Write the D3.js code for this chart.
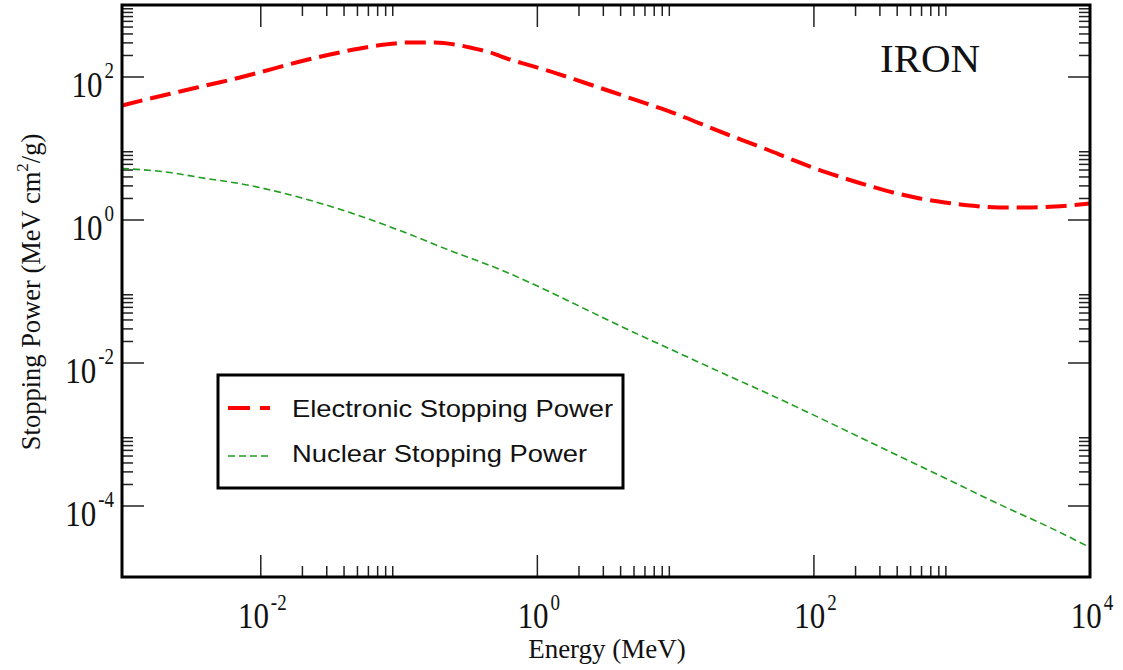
<!DOCTYPE html>
<html>
<head>
<meta charset="utf-8">
<script src="https://cdn.jsdelivr.net/npm/d3@7"></script>
<style>
  body { margin: 0; background: #fff; }
  svg { display: block; }
</style>
</head>
<body>
<div id="chart"></div>
<script>
// values (energy in MeV, stopping power in MeV cm2/g)
const elecEnergy = [0.001, 0.00159, 0.00263, 0.00433, 0.00713, 0.01175, 0.0194, 0.0319, 0.0526, 0.0797, 0.121, 0.183, 0.256, 0.328, 0.458, 0.639, 0.891, 1.40, 2.19, 3.43, 5.30, 7.90, 11.8, 18.5, 29.9, 46.1, 70, 103, 161, 248, 376, 589, 893, 1354, 2195, 3440, 5576, 8454, 10000]
const elecPower = [39.3, 49.2, 61.7, 77.3, 96.8, 125, 162, 203, 247, 280, 299, 299, 280, 255, 217, 173, 143, 110, 82.4, 61.7, 46.2, 35.7, 26.7, 18.8, 13.1, 9.53, 6.90, 5.17, 3.87, 2.99, 2.39, 1.97, 1.73, 1.57, 1.47, 1.47, 1.52, 1.62, 1.67]

const nucEnergy = [0.001, 0.00222, 0.00366, 0.00842, 0.0194, 0.0445, 0.102, 0.236, 0.541, 1.14, 2.05, 4.71, 10.8, 24.9, 48.4, 79.8, 184, 422, 970, 2234, 5130, 10000]
const nucPower = [5.17, 4.54, 3.87, 2.99, 2.03, 1.25, 0.702, 0.368, 0.200, 0.105, 0.0607, 0.0280, 0.01337, 0.00637, 0.00357, 0.00227, 0.00105, 0.000484, 0.000224, 0.000103, 0.0000492, 0.0000259]

const xMajorTicks = [1e-2, 1, 1e2, 1e4]
const yMajorTicks = [1e-4, 1e-2, 1, 1e2]
const minorSteps = [2, 3, 4, 5, 6, 7, 8, 9]

const seriesNames = ['Electronic Stopping Power', 'Nuclear Stopping Power']
const seriesColors = ['#ff0000', '#1f9e1f']

const W = 1123, H = 670
const plotLeft = 122, plotRight = 1090, plotTop = 5, plotBottom = 577

let svg = d3.select('#chart').append('svg')
    .attr('width', W)
    .attr('height', H)

let x = d3.scaleLog().domain([1e-3, 1e4]).range([plotLeft, plotRight])
let y = d3.scaleLog().domain([1e-5, 1e3]).range([plotBottom, plotTop])

function minorsOf(majors, scale) {
    let d = scale.domain()
    let out = []
    majors.forEach(m => minorSteps.forEach(k => {
        let v = m * k
        if (v > d[0] && v < d[1]) out.push(v)
    }))
    return out
}
let xMinor = minorsOf(xMajorTicks, x)
let yMinor = minorsOf(yMajorTicks, y)

// inward ticks on all four sides
function drawAxis(gen, tr, values, size) {
    let g = svg.append('g')
        .attr('transform', tr)
        .call(gen.tickValues(values).tickSize(-size).tickFormat(''))
    g.select('.domain').remove()
    g.selectAll('line').attr('stroke', '#222').attr('stroke-width', 1.5)
}
drawAxis(d3.axisBottom(x), `translate(0,${plotBottom})`, xMajorTicks.filter(v => v < 1e4), 22)
drawAxis(d3.axisBottom(x), `translate(0,${plotBottom})`, xMinor, 11)
drawAxis(d3.axisTop(x), `translate(0,${plotTop})`, xMajorTicks.filter(v => v < 1e4), 22)
drawAxis(d3.axisTop(x), `translate(0,${plotTop})`, xMinor, 11)
drawAxis(d3.axisLeft(y), `translate(${plotLeft},0)`, yMajorTicks, 22)
drawAxis(d3.axisLeft(y), `translate(${plotLeft},0)`, yMinor, 11)
drawAxis(d3.axisRight(y), `translate(${plotRight},0)`, yMajorTicks, 22)
drawAxis(d3.axisRight(y), `translate(${plotRight},0)`, yMinor, 11)

// power-of-ten labels
let stretch = 1.18
function powLabel(px, py, v, anchor) {
    let e = Math.round(Math.log10(v))
    let g = svg.append('g')
        .attr('transform', `translate(${px},${py}) scale(1,${stretch})`)
    let t = g.append('text')
        .attr('text-anchor', anchor)
        .attr('font-family', 'Liberation Serif, Times New Roman, serif')
        .attr('font-size', 31)
        .attr('fill', '#111')
    t.append('tspan').text('10')
    t.append('tspan')
        .attr('dx', 2)
        .attr('dy', -15.5)
        .attr('font-size', 19)
        .text(e)
}
xMajorTicks.forEach(v => powLabel(x(v) + 2, 628, v, 'middle'))
yMajorTicks.forEach(v => powLabel(114, y(v) + 20, v, 'end'))

// curves
let clip = svg.append('clipPath').attr('id', 'plotclip')
clip.append('rect')
    .attr('x', plotLeft).attr('y', plotTop)
    .attr('width', plotRight - plotLeft).attr('height', plotBottom - plotTop)

let line = d3.line()
    .x(d => x(d[0]))
    .y(d => y(d[1]))
    .curve(d3.curveMonotoneX)

let plot = svg.append('g').attr('clip-path', 'url(#plotclip)')
plot.append('path')
    .datum(nucEnergy.map((e, i) => [e, nucPower[i]]))
    .attr('d', line)
    .attr('fill', 'none')
    .attr('stroke', seriesColors[1])
    .attr('stroke-width', 1.6)
    .attr('stroke-dasharray', '7,4')
plot.append('path')
    .datum(elecEnergy.map((e, i) => [e, elecPower[i]]))
    .attr('d', line)
    .attr('fill', 'none')
    .attr('stroke', seriesColors[0])
    .attr('stroke-width', 4)
    .attr('stroke-dasharray', '21,8')

// frame
svg.append('rect')
    .attr('x', plotLeft).attr('y', plotTop)
    .attr('width', plotRight - plotLeft).attr('height', plotBottom - plotTop)
    .attr('fill', 'none')
    .attr('stroke', '#000')
    .attr('stroke-width', 3)

// legend
let legend = svg.append('g')
legend.append('rect')
    .attr('x', 218).attr('y', 375)
    .attr('width', 405).attr('height', 113)
    .attr('fill', '#fff')
    .attr('stroke', '#000')
    .attr('stroke-width', 3)
let legendRows = [
    { name: seriesNames[0], color: seriesColors[0], w: 4, dash: '22,10', ly: 408, ty: 417, len: 321 },
    { name: seriesNames[1], color: seriesColors[1], w: 1.6, dash: '7,4', ly: 456, ty: 462, len: 295 }
]
legendRows.forEach(r => {
    legend.append('line')
        .attr('x1', 228).attr('x2', 270)
        .attr('y1', r.ly).attr('y2', r.ly)
        .attr('stroke', r.color)
        .attr('stroke-width', r.w)
        .attr('stroke-dasharray', r.dash)
    legend.append('text')
        .attr('x', 292).attr('y', r.ty)
        .attr('font-family', 'Liberation Sans, Arial, sans-serif')
        .attr('font-size', 24)
        .attr('textLength', r.len)
        .attr('lengthAdjust', 'spacingAndGlyphs')
        .attr('fill', '#111')
        .text(r.name)
})

// titles
svg.append('text')
    .attr('x', 880).attr('y', 72)
    .attr('font-family', 'Liberation Serif, Times New Roman, serif')
    .attr('font-size', 41)
    .attr('fill', '#111')
    .text('IRON')

svg.append('text')
    .attr('x', 607).attr('y', 658)
    .attr('text-anchor', 'middle')
    .attr('font-family', 'Liberation Serif, Times New Roman, serif')
    .attr('font-size', 27)
    .attr('fill', '#111')
    .text('Energy (MeV)')

let yt = svg.append('text')
    .attr('transform', 'translate(40,292) rotate(-90)')
    .attr('text-anchor', 'middle')
    .attr('font-family', 'Liberation Serif, Times New Roman, serif')
    .attr('font-size', 26.5)
    .attr('fill', '#111')
yt.append('tspan').text('Stopping Power (MeV cm')
yt.append('tspan').attr('dy', -12).attr('font-size', 17).text('2')
yt.append('tspan').attr('dy', 12).text('/g)')
</script>
</body>
</html>
